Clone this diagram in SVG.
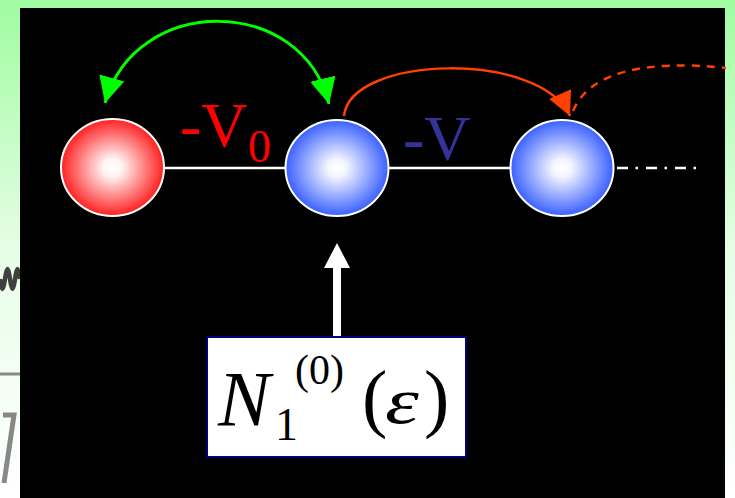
<svg xmlns="http://www.w3.org/2000/svg" width="735" height="498" viewBox="0 0 735 498">
<defs>
<linearGradient id="bg" x1="0" y1="0" x2="0" y2="1">
<stop offset="0" stop-color="#9ffca0"/>
<stop offset="0.5" stop-color="#e6fde6"/>
<stop offset="1" stop-color="#ffffff"/>
</linearGradient>
<radialGradient id="red" cx="0.5" cy="0.5" r="0.5">
<stop offset="0" stop-color="#ffffff"/>
<stop offset="0.18" stop-color="#fff4f4"/>
<stop offset="1" stop-color="#ff2020"/>
</radialGradient>
<radialGradient id="blue" cx="0.5" cy="0.5" r="0.5">
<stop offset="0" stop-color="#ffffff"/>
<stop offset="0.18" stop-color="#f4f6ff"/>
<stop offset="1" stop-color="#3a60ff"/>
</radialGradient>
<marker id="ag" viewBox="0 0 10 10" refX="10" refY="5" markerUnits="userSpaceOnUse" markerWidth="26" markerHeight="26" orient="auto-start-reverse">
<path d="M0,0 L10,5 L0,10 z" fill="#00ff00"/>
</marker>
<marker id="ao" viewBox="0 0 10 10" refX="10" refY="5" markerUnits="userSpaceOnUse" markerWidth="26" markerHeight="24" orient="auto">
<path d="M0,0 L10,5 L0,10 z" fill="#ff4000"/>
</marker>
</defs>
<style>
.sph{stroke:#ffffff;stroke-width:2}
.bond{stroke:#ffffff;stroke-width:2.5;fill:none}
.lbl{font-family:"Liberation Serif","Times New Roman",serif}
</style>
<rect x="0" y="0" width="735" height="498" fill="url(#bg)"/>
<path d="M0,279 q2.5,20 5,0 t5,0 t5,0 t5,0" stroke="#404040" stroke-width="4.5" fill="none"/>
<line x1="0" y1="374" x2="20" y2="374" stroke="#888888" stroke-width="3"/>
<path d="M3,415 L14,415 L4,483" stroke="#888888" stroke-width="5" fill="none"/>
<rect x="20" y="8" width="705" height="490" fill="#000000"/>

<g id="connectors">
<line class="bond" x1="164" y1="168" x2="286" y2="168"/>
<line class="bond" x1="389" y1="168" x2="511" y2="168"/>
<line class="bond" x1="617" y1="168" x2="698" y2="168" stroke-dasharray="11 7.5 2.5 8"/>
<path d="M105,103 C135,-6 302,-6 329,104" stroke="#00ff00" stroke-width="3" fill="none" marker-start="url(#ag)" marker-end="url(#ag)"/>
<path d="M344,116 C350,55 540,50 570,116" stroke="#ff4000" stroke-width="2.5" fill="none" marker-end="url(#ao)"/>
<path d="M573,111 C590,70 650,60 726,68" stroke="#ff4000" stroke-width="2.5" fill="none" stroke-dasharray="8 7"/>
<line x1="337" y1="338" x2="337" y2="266" stroke="#ffffff" stroke-width="8"/>
<polygon points="324,268 350,268 337,243" fill="#ffffff"/>
</g>

<g id="site0">
<ellipse class="sph" cx="112.5" cy="167.5" rx="51.5" ry="48.5" fill="url(#red)"/>
</g>
<g id="site1">
<ellipse class="sph" cx="337" cy="168" rx="51.5" ry="48" fill="url(#blue)"/>
</g>
<g id="site2">
<ellipse class="sph" cx="562" cy="168" rx="51.5" ry="48" fill="url(#blue)"/>
</g>

<g id="label-v0">
<text class="lbl" x="180" y="147" font-size="64" fill="#ff0000">-V</text>
<text class="lbl" x="248" y="162" font-size="46" fill="#ff0000">0</text>
</g>
<g id="label-v">
<text class="lbl" x="403" y="160" font-size="64" fill="#333399">-V</text>
</g>

<g id="dos-box">
<rect x="207" y="337" width="259" height="120" fill="#ffffff" stroke="#000080" stroke-width="2"/>
<text class="lbl" x="218" y="425" font-size="78" font-style="italic" fill="#000000">N</text>
<text class="lbl" x="275" y="440" font-size="46" fill="#000000">1</text>
<text class="lbl" x="295" y="384" font-size="42" fill="#000000">(0)</text>
<text class="lbl" x="362" y="423" font-size="76" fill="#000000">(</text>
<text class="lbl" transform="translate(385,423) scale(1.3,1)" font-size="66" font-style="italic" fill="#000000">ε</text>
<text class="lbl" x="424" y="423" font-size="76" fill="#000000">)</text>
</g>
</svg>
